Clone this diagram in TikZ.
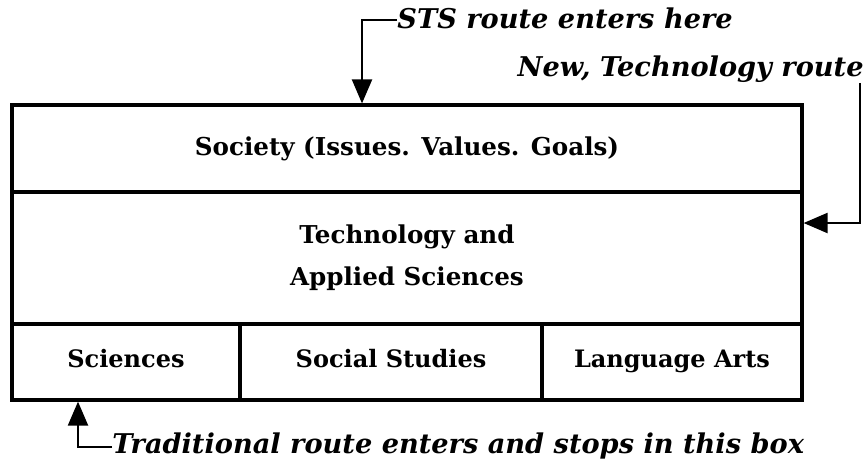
\documentclass[tikz,border=0pt]{standalone}
\usepackage{fontspec}
\setmainfont{DejaVu Serif}
\usetikzlibrary{arrows.meta, positioning}

\begin{document}
\begin{tikzpicture}
		[x=0.5pt, y=-0.5pt,
		row/.style = {draw=black, line width=1.6pt, rectangle, minimum width=395pt, align=center, font=\bfseries\fontsize{12.3}{21}\selectfont},
		cell/.style = {draw=black, line width=1.6pt, rectangle, minimum height=38pt, inner sep=0pt, text height=1.5ex, text depth=0.5ex, font=\bfseries\fontsize{12}{14}\selectfont},
		lbl/.style = {inner sep=0pt, font=\bfseries\itshape\fontsize{13.6}{15}\selectfont},
		route/.style = {line width=1.1pt, -{Triangle[length=12pt, width=10pt]}}]
		
		\useasboundingbox (0,0) rectangle (866,468);
		
		\node[row, minimum height=43.5pt] (society) at (407,148.5) {Society (Issues. Values. Goals)};
		\node[row, minimum height=66pt] (tech) at (407,258) {Technology and\\Applied Sciences};
		\foreach \x/\w/\alph/\name in {
			126/114pt/sci/{Sciences},
			391/151pt/social/{Social Studies},
			672/130pt/lang/{Language Arts}}
		{
			\node[cell, minimum width=\w] (\alph) at (\x,362) {\name};
		}
		
		\node[lbl, anchor=west] (stslabel) at (397,18) {STS route enters here};
		\node[lbl, anchor=east] (newlabel) at (864,69) {New, Technology route};
		\node[lbl, anchor=west] (tradlabel) at (112,446) {Traditional route enters and stops in this box};
		
		\coordinate (stsbend) at (362,20);
		\coordinate (newbend) at (860,223);
		\coordinate (tradbend) at (78,447);
		
		\draw[route] (stslabel.west |- stsbend) -- (stsbend) -- (stsbend |- society.north);
		\draw[route] (newlabel.south -| newbend) -- (newbend) -- (newbend -| tech.east);
		\draw[route] (tradlabel.west |- tradbend) -- (tradbend) -- (tradbend |- sci.south);
		
	\end{tikzpicture}
\end{document}
